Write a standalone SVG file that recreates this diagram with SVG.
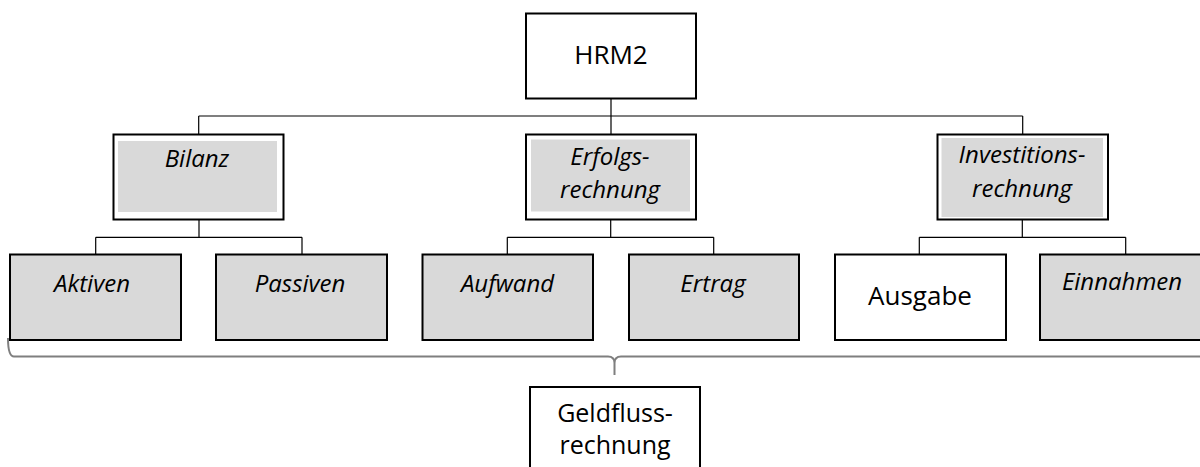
<svg xmlns="http://www.w3.org/2000/svg" width="1200" height="467" viewBox="0 0 1200 467">
<style>
.box{fill:#fff;stroke:#000;stroke-width:2}
.gbox{fill:#d9d9d9;stroke:#000;stroke-width:2}
.inner{fill:#d9d9d9;stroke:none}
.t{font-family:"Open Sans","Liberation Sans",sans-serif;font-size:26px;fill:#000;text-anchor:middle}
.t2{font-size:25px}
.it{font-family:"Open Sans","Liberation Sans",sans-serif;font-size:24px;font-style:italic;fill:#000;text-anchor:middle}
.con{fill:none;stroke:#000;stroke-width:1.2}
.brace{fill:none;stroke:#7f7f7f;stroke-width:2}
</style>
<rect width="1200" height="467" fill="#fff"/>
<g id="connectors">
<path class="con" d="M611,98V134M198.7,116H1022.7M198.7,116V134M1022.7,116V134"/>
<path class="con" d="M199,219V237.3M95.7,237.3H302M95.7,237.3V254M302,237.3V254"/>
<path class="con" d="M610.7,219V237.3M507.3,237.3H713.7M507.3,237.3V254M713.7,237.3V254"/>
<path class="con" d="M1022.3,219V237.3M919.3,237.3H1125.7M919.3,237.3V254M1125.7,237.3V254"/>
<path class="brace" d="M8,338Q8,356.5 14,356.5H608Q614.5,356.5 614.5,363V375M614.5,363Q614.5,356.5 621,356.5H1205"/>
</g>
<g id="hrm2"><rect class="box" x="526" y="13.5" width="170" height="85"/><text class="t" x="611" y="64">HRM2</text></g>
<g id="bilanz"><rect class="box" x="113.5" y="134.5" width="170" height="85"/><rect class="inner" x="118" y="141" width="159" height="71"/><text class="it" x="197" y="167">Bilanz</text></g>
<g id="erfolgsrechnung"><rect class="box" x="526" y="134.5" width="170" height="85"/><rect class="inner" x="531" y="139.5" width="159" height="72"/><text class="it" x="610" y="165">Erfolgs-</text><text class="it" x="610" y="198">rechnung</text></g>
<g id="investitionsrechnung"><rect class="box" x="937.5" y="134.5" width="170.5" height="85"/><rect class="inner" x="941.5" y="138" width="161.5" height="79"/><text class="it" x="1022" y="163">Investitions-</text><text class="it" x="1022" y="197">rechnung</text></g>
<g id="aktiven"><rect class="gbox" x="10" y="254.5" width="171" height="85.5"/><text class="it" x="92" y="292">Aktiven</text></g>
<g id="passiven"><rect class="gbox" x="216" y="254.5" width="171" height="85.5"/><text class="it" x="300" y="292">Passiven</text></g>
<g id="aufwand"><rect class="gbox" x="422.5" y="254.5" width="170.5" height="85.5"/><text class="it" x="507.5" y="292">Aufwand</text></g>
<g id="ertrag"><rect class="gbox" x="629" y="254.5" width="170" height="85.5"/><text class="it" x="713" y="292">Ertrag</text></g>
<g id="ausgabe"><rect class="box" x="835" y="254.5" width="171" height="85.5"/><text class="t" x="920" y="305">Ausgabe</text></g>
<g id="einnahmen"><rect class="gbox" x="1040" y="254.5" width="171" height="85.5"/><text class="it" x="1122" y="290">Einnahmen</text></g>
<g id="geldflussrechnung"><rect class="box" x="530" y="387" width="170" height="100"/><text class="t t2" x="615" y="422">Geldfluss-</text><text class="t t2" x="615" y="454">rechnung</text></g>
</svg>
